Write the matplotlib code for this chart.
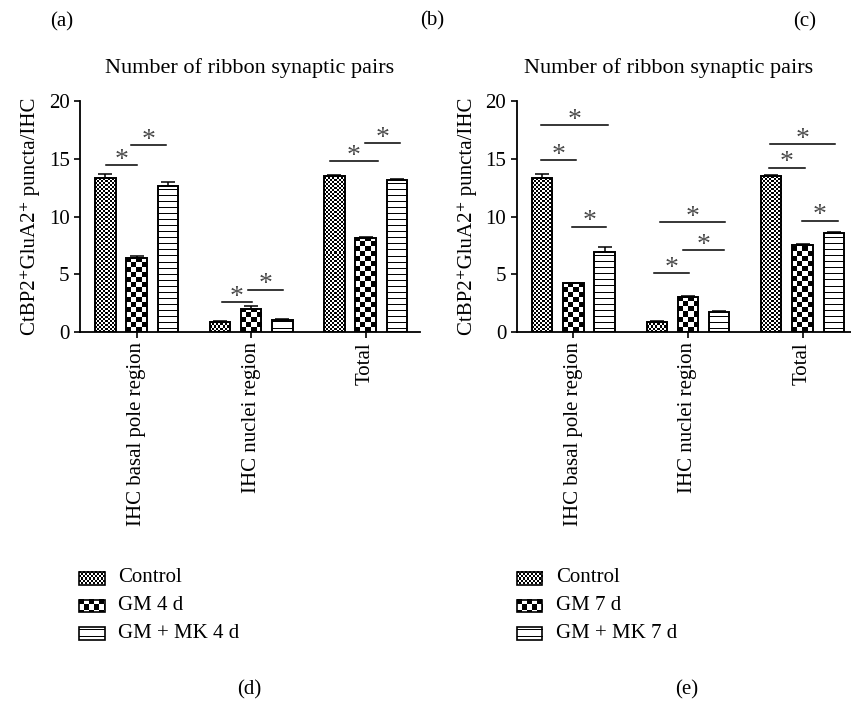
import numpy as np
import matplotlib
matplotlib.use('Agg')
import matplotlib.pyplot as plt
from matplotlib.patches import Rectangle

plt.rcParams['font.family'] = ['Liberation Serif', 'DejaVu Serif']
plt.rcParams['font.size'] = 15

# data
categories = ['IHC basal pole region', 'IHC nuclei region', 'Total']
groups_4d = ['Control', 'GM 4 d', 'GM + MK 4 d']
groups_7d = ['Control', 'GM 7 d', 'GM + MK 7 d']

ctrl_4d = [13.33, 0.90, 13.53]
ctrl_4d_err = [0.33, 0.05, 0.05]
gm_4d = [6.39, 1.97, 8.18]
gm_4d_err = [0.15, 0.28, 0.05]
gmmk_4d = [12.66, 1.04, 13.18]
gmmk_4d_err = [0.30, 0.09, 0.05]

ctrl_7d = [13.30, 0.87, 13.50]
ctrl_7d_err = [0.34, 0.05, 0.05]
gm_7d = [4.20, 3.04, 7.55]
gm_7d_err = [0.05, 0.05, 0.05]
gmmk_7d = [6.94, 1.71, 8.60]
gmmk_7d_err = [0.38, 0.07, 0.05]

# significance bars: (x start, x end, height)
sig_4d = [(-0.27, 0.005, 14.43), (-0.05, 0.26, 16.2),
          (0.742, 1.004, 2.57), (0.975, 1.28, 3.67),
          (1.688, 2.105, 14.8), (1.994, 2.30, 16.33)]
sig_7d = [(-0.285, 0.024, 14.88), (-0.282, 0.306, 17.91), (-0.011, 0.286, 9.12),
          (0.707, 1.008, 5.12), (0.757, 1.322, 9.52), (0.955, 1.316, 7.12),
          (1.703, 2.017, 14.24), (1.712, 2.28, 16.3), (1.995, 2.306, 9.65)]

W, H = 851, 703
fig = plt.figure(figsize=(W / 100, H / 100), dpi=100)

kinds = ['fine', 'coarse', 'stripes']
offsets = [-0.273, 0.0, 0.273]
bw = 0.178


def texture(ax, patch, kind):
    bb = patch.get_bbox()
    p0 = ax.transData.transform((bb.x0, bb.y0))
    p1 = ax.transData.transform((bb.x1, bb.y1))
    w = max(int(round(abs(p1[0] - p0[0]))), 1)
    h = max(int(round(abs(p1[1] - p0[1]))), 1)
    jj, ii = np.meshgrid(np.arange(w), np.arange(h))
    if kind == 'fine':
        arr = ((ii // 2 + jj // 2) % 2).astype(float)
    elif kind == 'coarse':
        arr = ((ii // 5 + jj // 5) % 2).astype(float)
    else:
        arr = (ii % 6 != 3).astype(float)
    ax.imshow(arr, cmap='gray', vmin=0, vmax=1, origin='lower',
              extent=(bb.x0, bb.x1, bb.y0, bb.y1), aspect='auto',
              interpolation='nearest', clip_path=patch, zorder=2)


def panel(rect, xmax, series, errs, sigs):
    ax = fig.add_axes(rect)
    ax.set_xlim(-0.495, xmax)
    ax.set_ylim(0, 20)
    x = np.arange(len(categories))
    for k, (vals, err) in enumerate(zip(series, errs)):
        bars = ax.bar(x + offsets[k], vals, bw, facecolor='none',
                      edgecolor='black', linewidth=1.4, zorder=3)
        ax.errorbar(x + offsets[k], vals, yerr=[np.zeros(len(err)), err],
                    fmt='none', ecolor='black', elinewidth=1.1,
                    capsize=5, capthick=1.1, zorder=4)
        for b in bars:
            texture(ax, b, kinds[k])
    for x1, x2, y in sigs:
        ax.plot([x1, x2], [y, y], color='black', lw=1.1, zorder=4)
        ax.annotate('*', xy=((x1 + x2) / 2, y), xytext=(0, -1.3),
                    textcoords='offset points', ha='center', va='baseline',
                    fontsize=20, color='#4a4a4a')
    ax.set_xlim(-0.495, xmax)
    ax.set_ylim(0, 20)
    ax.set_yticks([0, 5, 10, 15, 20])
    ax.set_xticks(x)
    ax.set_xticklabels(categories, rotation=90)
    for s in ['top', 'right']:
        ax.spines[s].set_visible(False)
    for s in ['left', 'bottom']:
        ax.spines[s].set_linewidth(1.3)
    ax.tick_params(direction='out', length=4.5, width=1.2, labelsize=15, pad=3)
    ax.set_ylabel('CtBP2\u207aGluA2\u207a puncta/IHC', fontsize=15, labelpad=6)
    return ax


ax1 = panel([80 / W, 1 - 332 / H, 340 / W, 231 / H], 2.475,
            [ctrl_4d, gm_4d, gmmk_4d], [ctrl_4d_err, gm_4d_err, gmmk_4d_err], sig_4d)
ax2 = panel([516.7 / W, 1 - 332 / H, 334 / W, 231 / H], 2.42,
            [ctrl_7d, gm_7d, gmmk_7d], [ctrl_7d_err, gm_7d_err, gmmk_7d_err], sig_7d)

# titles and panel letters
fig.text(250 / W, 1 - 68 / H, 'Number of ribbon synaptic pairs', ha='center', va='center', fontsize=16)
fig.text(669 / W, 1 - 68 / H, 'Number of ribbon synaptic pairs', ha='center', va='center', fontsize=16)
for lab, px, py in [('(a)', 62, 22), ('(b)', 432, 21), ('(c)', 805, 22),
                    ('(d)', 249, 690), ('(e)', 687, 690)]:
    fig.text(px / W, 1 - py / H, lab, ha='center', va='center', fontsize=15)

# legends drawn in a figure-wide pixel axes
lax = fig.add_axes([0, 0, 1, 1], zorder=-1)
lax.set_xlim(0, W)
lax.set_ylim(H, 0)
lax.axis('off')
for x0, names in [(79, groups_4d), (516.7, groups_7d)]:
    for k, name in enumerate(names):
        yc = 578 + k * 27.5
        r = Rectangle((x0, yc - 6), 25.5, 12.5, facecolor='none',
                      edgecolor='black', linewidth=1.2, zorder=3)
        lax.add_patch(r)
        texture(lax, r, kinds[k])
        lax.text(x0 + 39, yc, name, ha='left', va='center', fontsize=15)
lax.set_xlim(0, W)
lax.set_ylim(H, 0)

fig.savefig('out.png', dpi=100)
